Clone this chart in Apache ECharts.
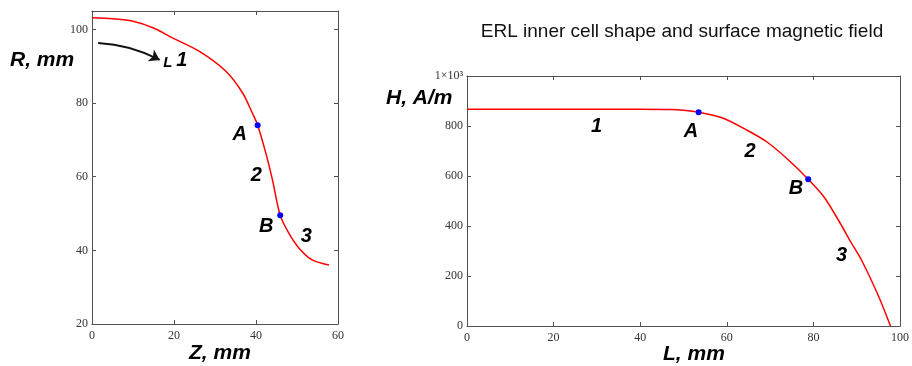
<!DOCTYPE html>
<html>
<head>
<meta charset="utf-8">
<script src="https://cdn.jsdelivr.net/npm/echarts@6/dist/echarts.min.js"></script>
<style>
  html, body { margin: 0; padding: 0; background: #fff; }
  #main { width: 912px; height: 366px; }
</style>
</head>
<body>
<div id="main"></div>
<script>
// cell shape, R(Z) in mm
const shapeZ = [0, 5, 9.8, 15, 19.6, 26.1, 32.6, 36.7, 39.1, 40.4, 42.4, 44.0, 45.9, 48.0, 50.5, 53.7, 57.8];
const shapeR = [103.2, 102.9, 102.3, 100.4, 97.7, 94.1, 88.7, 82.8, 77.3, 74.0, 66.4, 59.2, 49.5, 44.7, 40.6, 37.4, 36.0];
// surface magnetic field H(L), A/m
const fieldL = [0, 20, 40, 47, 50, 53.5, 59.2, 64.6, 69.2, 73.8, 78.8, 82.5, 86.2, 88.6, 91.1, 95.1, 97.8];
const fieldH = [867, 867, 867, 866, 863, 855, 831, 784, 737, 671, 587, 515, 411, 337, 264, 117, 0];
// points A and B
const shapeAB = [[40.4, 74.0], [45.9, 49.5]];
const fieldAB = [[53.5, 855], [78.8, 587]];
// text marks placed in data units
const shapeNotes = [['1', 21.9, 91.6], ['A', 36.0, 71.6], ['2', 40.1, 60.2], ['B', 42.5, 46.5], ['3', 52.3, 43.7]];
const fieldNotes = [['1', 29.9, 797], ['A', 51.7, 777], ['2', 65.4, 697], ['B', 76.0, 551], ['3', 86.5, 284]];
const arrowFrom = [1.5, 96.3];
const arrowTo = [16.5, 91.7];
const lMark = [18.5, 90.9];

const titleText = 'ERL inner cell shape and surface magnetic field';

const chart = echarts.init(document.getElementById('main'));

const lineCol = '#505050';
const labelFont = {fontFamily: 'Liberation Serif', fontSize: 12, color: '#333'};
const noteFont = {fontFamily: 'Liberation Sans', fontStyle: 'italic', fontWeight: 'bold', fontSize: 20, color: '#000'};

function axisBase(extra) {
    return Object.assign({
        type: 'value',
        splitLine: {show: false},
        axisLine: {show: true, onZero: false, lineStyle: {color: lineCol, width: 1}},
        axisTick: {show: true, inside: true, length: 4, lineStyle: {color: lineCol}},
        axisLabel: Object.assign({margin: 6}, labelFont)
    }, extra);
}

function mirror(extra) {
    const a = axisBase(extra);
    a.axisLabel = {show: false};
    return a;
}

function notes(list, gi, size) {
    return {
        type: 'scatter',
        xAxisIndex: gi * 2,
        yAxisIndex: gi * 2,
        symbolSize: 0,
        silent: true,
        itemStyle: {opacity: 1},
        data: list.map(n => ({name: n[0], value: [n[1], n[2]]})),
        label: Object.assign({show: true, position: 'inside', formatter: p => p.name}, noteFont,
            size ? {fontSize: size} : {})
    };
}

chart.setOption({
    animation: false,
    title: {
        text: titleText,
        left: 677,
        top: 17,
        textAlign: 'center',
        textStyle: {fontFamily: 'Liberation Sans', fontWeight: 'normal', fontSize: 19, color: '#111'}
    },
    grid: [
        {left: 92, top: 11, width: 246, height: 313},
        {left: 467, top: 76, width: 433, height: 250}
    ],
    xAxis: [
        axisBase({gridIndex: 0, min: 0, max: 60, interval: 20, position: 'bottom'}),
        mirror({gridIndex: 0, min: 0, max: 60, interval: 20, position: 'top'}),
        axisBase({gridIndex: 1, min: 0, max: 100, interval: 20, position: 'bottom'}),
        mirror({gridIndex: 1, min: 0, max: 100, interval: 20, position: 'top'})
    ],
    yAxis: [
        axisBase({gridIndex: 0, min: 20, max: 105, interval: 20, position: 'left',
            axisLabel: Object.assign({margin: 4, showMaxLabel: false}, labelFont)}),
        mirror({gridIndex: 0, min: 20, max: 105, interval: 20, position: 'right'}),
        axisBase({gridIndex: 1, min: 0, max: 1000, interval: 200, position: 'left',
            axisLabel: Object.assign({margin: 4, formatter: v => v === 1000 ? '1×10³' : String(v)}, labelFont)}),
        mirror({gridIndex: 1, min: 0, max: 1000, interval: 200, position: 'right'})
    ],
    graphic: [
        {type: 'text', left: 10, top: 50, style: Object.assign({text: 'R, mm'}, noteFont, {fontSize: 21})},
        {type: 'text', left: 189, top: 343, style: Object.assign({text: 'Z, mm'}, noteFont, {fontSize: 21})},
        {type: 'text', left: 386, top: 88, style: Object.assign({text: 'H, A/m'}, noteFont, {fontSize: 21})},
        {type: 'text', left: 663, top: 344, style: Object.assign({text: 'L, mm'}, noteFont, {fontSize: 21})}
    ],
    series: [
        {
            type: 'line',
            xAxisIndex: 0, yAxisIndex: 0,
            data: shapeZ.map((z, i) => [z, shapeR[i]]),
            smooth: 0.3,
            showSymbol: false,
            lineStyle: {color: '#ff0000', width: 1.5}
        },
        {
            type: 'line',
            xAxisIndex: 2, yAxisIndex: 2,
            data: fieldL.map((l, i) => [l, fieldH[i]]),
            smooth: 0.25,
            showSymbol: false,
            lineStyle: {color: '#ff0000', width: 1.5}
        },
        {
            type: 'scatter', xAxisIndex: 0, yAxisIndex: 0, symbolSize: 6,
            itemStyle: {color: '#0000ff', opacity: 1}, data: shapeAB, z: 5
        },
        {
            type: 'scatter', xAxisIndex: 2, yAxisIndex: 2, symbolSize: 6,
            itemStyle: {color: '#0000ff', opacity: 1}, data: fieldAB, z: 5
        },
        notes(shapeNotes, 0),
        notes(fieldNotes, 1),
        notes([['L', lMark[0], lMark[1]]], 0, 15),
        {
            // curved arrow pointing along L
            type: 'lines',
            coordinateSystem: 'cartesian2d',
            xAxisIndex: 0, yAxisIndex: 0,
            silent: true,
            symbol: ['none', 'arrow'],
            symbolSize: 10,
            lineStyle: {color: '#111', width: 2, opacity: 1, curveness: 0.11},
            data: [{coords: [arrowFrom, arrowTo]}]
        }
    ]
});
</script>
</body>
</html>
